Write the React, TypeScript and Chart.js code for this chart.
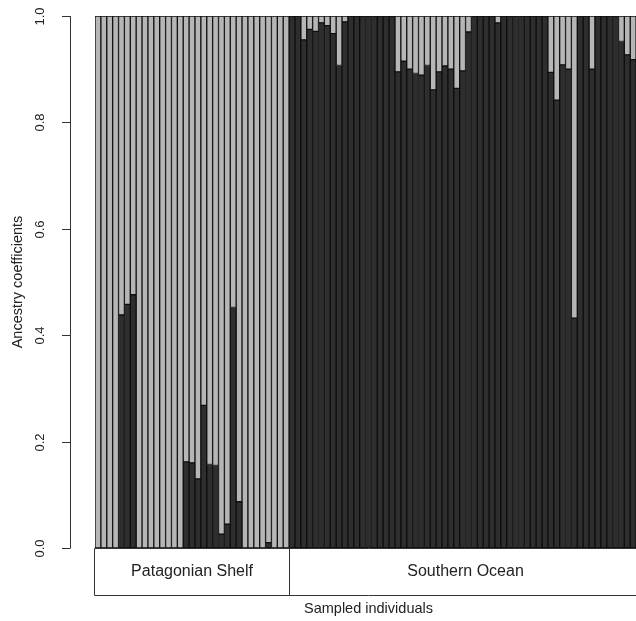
import React, { useEffect, useRef } from "react";
import { Chart, registerables } from "chart.js";

Chart.register(...registerables);

// Southern Ocean ancestry coefficient (dark) per sampled individual; light = 1 - dark
const patagonianShelfDark = [
  0, 0, 0, 0, 0.438, 0.458, 0.476, 0, 0, 0, 0, 0, 0, 0, 0,
  0.162, 0.16, 0.13, 0.268, 0.157, 0.155, 0.026, 0.045, 0.452, 0.087,
  0, 0, 0, 0, 0.01, 0, 0, 0,
];
const southernOceanDark = [
  1, 1, 0.955, 0.975, 0.971, 0.987, 0.982, 0.967, 0.907, 0.989,
  1, 1, 1, 1, 1, 1, 1, 1,
  0.895, 0.915, 0.9, 0.892, 0.889, 0.907, 0.861, 0.895, 0.906, 0.9, 0.864, 0.897, 0.97,
  1, 1, 1, 1, 0.987, 1, 1, 1, 1, 1, 1, 1, 1,
  0.894, 0.842, 0.908, 0.9, 0.432, 1, 1, 0.9, 1, 1, 1, 1, 0.952, 0.927, 0.918, 1,
];
const groupNames = ["Patagonian Shelf", "Southern Ocean"];
const groupSizes = [patagonianShelfDark.length, southernOceanDark.length];
const yTickValues = [0, 0.2, 0.4, 0.6, 0.8, 1.0];
const yTickLabels = ["0.0", "0.2", "0.4", "0.6", "0.8", "1.0"];
const xTitle = "Sampled individuals";
const yTitle = "Ancestry coefficients";

const darkValues = [...patagonianShelfDark, ...southernOceanDark];
const lightValues = darkValues.map((v) => +(1 - v).toFixed(3));
const individuals = darkValues.map((_, i) => String(i + 1));

const FONT = '"Liberation Sans", Arial, Helvetica, sans-serif';

const decorPlugin = {
  id: "decor",
  afterDraw(chart: any) {
    const ctx = chart.ctx as CanvasRenderingContext2D;
    const xs = chart.scales.x;
    const ys = chart.scales.y;
    const n = individuals.length;
    const bw = (xs.right - xs.left) / n;
    ctx.save();
    // y axis
    const axisX = xs.left - 25;
    ctx.strokeStyle = "#333";
    ctx.lineWidth = 1;
    ctx.beginPath();
    ctx.moveTo(axisX + 0.5, ys.getPixelForValue(0));
    ctx.lineTo(axisX + 0.5, ys.getPixelForValue(1));
    ctx.stroke();
    ctx.fillStyle = "#222";
    ctx.font = `13px ${FONT}`;
    ctx.textAlign = "center";
    ctx.textBaseline = "middle";
    yTickValues.forEach((v, i) => {
      const py = Math.round(ys.getPixelForValue(v)) + 0.5;
      ctx.beginPath();
      ctx.moveTo(axisX - 8, py);
      ctx.lineTo(axisX + 0.5, py);
      ctx.stroke();
      ctx.save();
      ctx.translate(axisX - 30, py);
      ctx.rotate(-Math.PI / 2);
      ctx.fillText(yTickLabels[i], 0, 0);
      ctx.restore();
    });
    // y title
    ctx.save();
    ctx.font = `14.5px ${FONT}`;
    ctx.translate(18, (ys.getPixelForValue(0) + ys.getPixelForValue(1)) / 2);
    ctx.rotate(-Math.PI / 2);
    ctx.fillText(yTitle, 0, 0);
    ctx.restore();
    // group box
    const top = ys.getPixelForValue(0);
    const bottom = top + 47;
    const left = Math.round(xs.left) - 0.5;
    const right = Math.round(xs.right) + 0.5;
    ctx.beginPath();
    ctx.rect(left, Math.round(top) + 0.5, right - left, bottom - top);
    ctx.stroke();
    ctx.font = `16px ${FONT}`;
    let start = 0;
    groupSizes.forEach((size, gi) => {
      const gl = xs.getPixelForValue(start) - bw / 2;
      const gr = xs.getPixelForValue(start + size - 1) + bw / 2;
      if (gi > 0) {
        const px = Math.round(gl) + 0.5;
        ctx.beginPath();
        ctx.moveTo(px, top);
        ctx.lineTo(px, bottom);
        ctx.stroke();
      }
      ctx.fillText(groupNames[gi], (gl + gr) / 2, (top + bottom) / 2);
      start += size;
    });
    // x title
    ctx.font = `14.5px ${FONT}`;
    ctx.fillText(xTitle, (xs.left + xs.right) / 2, bottom + 14);
    ctx.restore();
  },
};

export default function App() {
  const ref = useRef<HTMLCanvasElement | null>(null);
  useEffect(() => {
    if (!ref.current) return;
    const chart = new Chart(ref.current, {
      type: "bar",
      data: {
        labels: individuals,
        datasets: [
          {
            label: "Southern Ocean",
            data: darkValues,
            backgroundColor: "#2e2e2e",
            borderColor: "#0d0d0d",
            borderWidth: 1,
            borderSkipped: false,
          },
          {
            label: "Patagonian Shelf",
            data: lightValues,
            backgroundColor: "#b6b6b6",
            borderColor: "#111111",
            borderWidth: 1,
            borderSkipped: false,
          },
        ],
      },
      options: {
        responsive: false,
        animation: false,
        devicePixelRatio: 1,
        layout: { padding: { left: 95, top: 16, right: 18, bottom: 73 } },
        datasets: { bar: { barPercentage: 1, categoryPercentage: 1 } },
        plugins: { legend: { display: false }, tooltip: { enabled: false } },
        scales: {
          x: { stacked: true, display: false },
          y: { stacked: true, display: false, min: 0, max: 1 },
        },
      },
      plugins: [decorPlugin],
    });
    return () => chart.destroy();
  }, []);
  return (
    <div style={{ position: "absolute", left: 0, top: 0, width: 636, height: 621, overflow: "hidden", background: "#fff" }}>
      <canvas ref={ref} width={660} height={621} style={{ width: 660, height: 621, display: "block" }} />
    </div>
  );
}
